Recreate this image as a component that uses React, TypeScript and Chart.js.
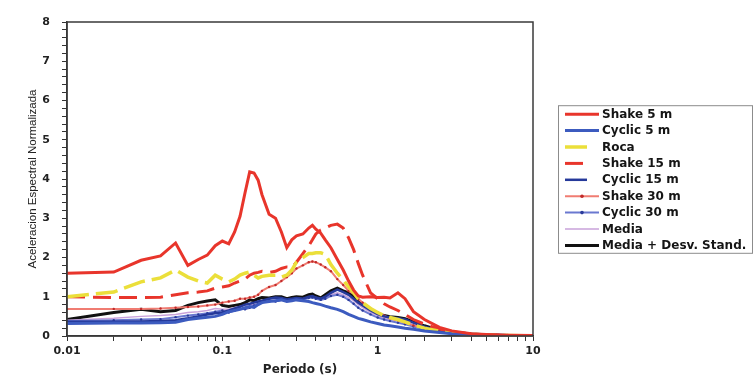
import React, { useEffect, useRef } from 'react';
import { Chart, registerables } from 'chart.js';

Chart.register(...registerables);

// Period axis (s)
const periods = [
  0.01, 0.02, 0.03, 0.04, 0.05, 0.06, 0.07, 0.08, 0.09, 0.1,
  0.11, 0.12, 0.13, 0.14, 0.15, 0.16, 0.17, 0.18, 0.2, 0.22,
  0.24, 0.26, 0.28, 0.3, 0.33, 0.36, 0.38, 0.4, 0.43, 0.46,
  0.5, 0.55, 0.6, 0.65, 0.7, 0.75, 0.8, 0.9, 1.0, 1.1,
  1.2, 1.35, 1.5, 1.7, 2.0, 2.5, 3.0, 4.0, 5.0, 7.0,
  10,
];

const shake5 = [
  1.6, 1.63, 1.93, 2.04, 2.37, 1.8, 1.95, 2.06, 2.3, 2.42,
  2.35, 2.65, 3.05, 3.65, 4.18, 4.15, 3.97, 3.6, 3.1, 3.0,
  2.65, 2.25, 2.45, 2.55, 2.6, 2.75, 2.82, 2.72, 2.62, 2.45,
  2.25, 1.95, 1.68, 1.4, 1.17, 1.02, 0.99, 1.0, 0.98, 0.99,
  0.97, 1.1, 0.95, 0.62, 0.42, 0.22, 0.13, 0.06, 0.04, 0.02,
  0.01,
];

const cyclic5 = [
  0.32, 0.33, 0.33, 0.34, 0.35, 0.42, 0.45, 0.48, 0.5, 0.55,
  0.62, 0.65, 0.68, 0.72, 0.75, 0.73, 0.8, 0.85, 0.88, 0.9,
  0.92, 0.88, 0.9, 0.92, 0.9, 0.88, 0.85, 0.83, 0.8, 0.76,
  0.72, 0.68, 0.62, 0.55, 0.5, 0.45, 0.42, 0.36, 0.32, 0.28,
  0.26, 0.23, 0.2, 0.17, 0.13, 0.09, 0.06, 0.035, 0.02, 0.01,
  0.005,
];

const roca = [
  1.0, 1.12, 1.38, 1.48, 1.68, 1.5, 1.4, 1.35, 1.55, 1.45,
  1.38, 1.45, 1.55, 1.6, 1.63, 1.55, 1.48, 1.52, 1.55, 1.55,
  1.5, 1.55, 1.68, 1.88, 2.0, 2.1, 2.1, 2.12, 2.12, 2.08,
  1.82, 1.6, 1.43, 1.25, 1.1, 0.95, 0.85, 0.7, 0.6, 0.52,
  0.47, 0.42, 0.36, 0.28, 0.2, 0.12, 0.08, 0.04, 0.025, 0.012,
  0.006,
];

const shake15 = [
  1.0, 0.98, 0.98, 0.99, 1.05, 1.1, 1.12, 1.15, 1.22, 1.25,
  1.28, 1.35, 1.4, 1.45, 1.55, 1.6, 1.62, 1.65, 1.62, 1.65,
  1.72, 1.76, 1.75, 1.88, 2.1, 2.3, 2.45, 2.6, 2.7, 2.75,
  2.82, 2.85, 2.75, 2.5, 2.2, 1.85, 1.55, 1.1, 0.95, 0.82,
  0.74, 0.65, 0.55, 0.42, 0.3, 0.18, 0.11, 0.05, 0.03, 0.015,
  0.01,
];

const cyclic15 = [
  0.36, 0.36, 0.37, 0.38, 0.4, 0.45, 0.5, 0.55, 0.58, 0.6,
  0.65, 0.7, 0.75, 0.8, 0.82, 0.85, 0.88, 0.9, 0.95, 0.98,
  0.97, 0.93, 0.95, 0.97, 0.95, 1.0, 1.02, 0.98, 0.95, 1.0,
  1.1, 1.18, 1.12, 1.05, 0.95, 0.85, 0.78, 0.65, 0.56, 0.5,
  0.47, 0.45, 0.42, 0.34, 0.24, 0.13, 0.09, 0.045, 0.028, 0.014,
  0.007,
];

const shake30 = [
  0.69, 0.69, 0.69, 0.7, 0.72, 0.74, 0.75, 0.78, 0.8, 0.85,
  0.88, 0.9, 0.95, 0.95, 0.98, 1.0, 1.05, 1.15, 1.25, 1.3,
  1.4, 1.5, 1.6, 1.72, 1.8, 1.88, 1.9, 1.88, 1.82, 1.75,
  1.65, 1.45, 1.3, 1.15, 1.08, 0.95, 0.85, 0.7, 0.6, 0.52,
  0.45, 0.4, 0.34, 0.27, 0.2, 0.12, 0.08, 0.04, 0.025, 0.012,
  0.006,
];

const cyclic30 = [
  0.38, 0.4, 0.42, 0.43, 0.48, 0.52, 0.55, 0.58, 0.62, 0.65,
  0.6, 0.65, 0.7, 0.68, 0.72, 0.78, 0.82, 0.85, 0.9, 0.88,
  0.92, 0.9, 0.92, 0.95, 0.93, 0.97, 0.98, 0.95, 0.92, 0.95,
  1.02, 1.05, 1.0, 0.92, 0.82, 0.72, 0.65, 0.55, 0.47, 0.42,
  0.38, 0.34, 0.3, 0.24, 0.18, 0.11, 0.07, 0.04, 0.024, 0.012,
  0.006,
];

const media = [
  0.4, 0.45, 0.5, 0.52, 0.55, 0.6, 0.62, 0.65, 0.7, 0.68,
  0.68, 0.72, 0.75, 0.78, 0.8, 0.8, 0.83, 0.86, 0.9, 0.92,
  0.93, 0.92, 0.93, 0.96, 0.95, 0.98, 1.0, 0.98, 0.95, 0.98,
  1.05, 1.1, 1.05, 0.98, 0.9, 0.8, 0.72, 0.6, 0.52, 0.46,
  0.42, 0.39, 0.36, 0.29, 0.21, 0.12, 0.08, 0.04, 0.025, 0.012,
  0.006,
];

const mediaDesv = [
  0.42, 0.6, 0.68, 0.62, 0.65, 0.78, 0.85, 0.89, 0.92, 0.78,
  0.75, 0.78, 0.8, 0.85, 0.92, 0.9, 0.95, 0.98, 0.97, 1.0,
  1.0, 0.95, 0.98, 1.0, 0.99, 1.05, 1.07, 1.02, 0.97, 1.05,
  1.15, 1.22, 1.15, 1.1, 1.0, 0.9, 0.82, 0.68, 0.58, 0.52,
  0.49, 0.47, 0.44, 0.36, 0.26, 0.14, 0.1, 0.05, 0.03, 0.015,
  0.008,
];

const seriesLabels = [
  'Shake 5 m', 'Cyclic 5 m', 'Roca', 'Shake 15 m', 'Cyclic 15 m',
  'Shake 30 m', 'Cyclic 30 m', 'Media', 'Media + Desv. Stand.',
];

const yTickLabels = ['0', '1', '2', '3', '4', '5', '6', '7', '8'];
const xTickLabels = ['0.01', '0.1', '1', '10'];

const toPoints = (vals: number[]) => periods.map((p, i) => ({ x: p, y: vals[i] }));

const frameLegend = {
  id: 'frameLegend',
  afterDraw(chart: any) {
    const { ctx, chartArea } = chart;
    const { left, top, right, bottom } = chartArea;
    ctx.save();
    // plot frame
    ctx.setLineDash([]);
    ctx.strokeStyle = '#3a3a3a';
    ctx.lineWidth = 1.5;
    ctx.strokeRect(left, top, right - left, bottom - top);

    // legend box
    const ds = chart.data.datasets;
    const rowH = 16.4;
    const boxX = right + 25;
    const boxW = 194;
    const boxH = rowH * ds.length;
    const boxY = (top + bottom) / 2 - boxH / 2;
    ctx.lineWidth = 1;
    ctx.strokeStyle = '#8c8c8c';
    ctx.strokeRect(boxX + 0.5, boxY + 0.5, boxW, boxH);
    ctx.font = 'bold 12px "DejaVu Sans"';
    ctx.textBaseline = 'middle';
    ctx.textAlign = 'left';
    ds.forEach((d: any, i: number) => {
      const cy = boxY + 9 + i * rowH;
      const x0 = boxX + 7;
      const dash = d.borderDash || [];
      const len = d.legendLen ? d.legendLen : dash.length ? Math.min(dash[0], 34) : 34;
      ctx.setLineDash([]);
      ctx.strokeStyle = d.borderColor;
      ctx.lineWidth = d.borderWidth;
      ctx.beginPath();
      ctx.moveTo(x0, cy);
      ctx.lineTo(x0 + len, cy);
      ctx.stroke();
      if (d.pointRadius > 0) {
        ctx.fillStyle = d.pointBackgroundColor;
        ctx.beginPath();
        ctx.arc(x0 + 17, cy, 1.8, 0, Math.PI * 2);
        ctx.fill();
      }
      ctx.fillStyle = '#151515';
      ctx.fillText(d.label, boxX + 44, cy + 0.5);
    });
    ctx.restore();
  },
};

export default function App() {
  const ref = useRef<HTMLCanvasElement | null>(null);

  useEffect(() => {
    if (!ref.current) return;
    const base = { pointRadius: 0, tension: 0, fill: false };
    const chart = new Chart(ref.current, {
      type: 'line',
      data: {
        datasets: [
          { ...base, label: seriesLabels[0], data: toPoints(shake5), borderColor: '#e8352b', borderWidth: 3 },
          { ...base, label: seriesLabels[1], data: toPoints(cyclic5), borderColor: '#3c5bbf', borderWidth: 3 },
          { ...base, label: seriesLabels[2], data: toPoints(roca), borderColor: '#ebdf3a', borderWidth: 3.5, borderDash: [22, 7] },
          { ...base, label: seriesLabels[3], data: toPoints(shake15), borderColor: '#e8352b', borderWidth: 3, borderDash: [18, 8] },
          { ...base, label: seriesLabels[4], data: toPoints(cyclic15), borderColor: '#25399a', borderWidth: 2.5, legendLen: 22 },
          { ...base, label: seriesLabels[5], data: toPoints(shake30), borderColor: '#f07c72', borderWidth: 2, pointRadius: 1.2, pointBorderWidth: 0, pointBackgroundColor: '#c02a2a' },
          { ...base, label: seriesLabels[6], data: toPoints(cyclic30), borderColor: '#6a78d0', borderWidth: 2, pointRadius: 1.2, pointBorderWidth: 0, pointBackgroundColor: '#2a3a9a' },
          { ...base, label: seriesLabels[7], data: toPoints(media), borderColor: '#c9a2da', borderWidth: 1.5 },
          { ...base, label: seriesLabels[8], data: toPoints(mediaDesv), borderColor: '#111111', borderWidth: 3 },
        ],
      },
      options: {
        animation: false,
        responsive: false,
        maintainAspectRatio: false,
        layout: { padding: { top: 22, right: 222, left: 0, bottom: 0 } },
        plugins: {
          legend: { display: false },
          tooltip: { enabled: false },
        },
        scales: {
          x: {
            type: 'logarithmic',
            min: 0.01,
            max: 10,
            afterFit: (s: any) => { s.height = 42; },
            grid: { drawOnChartArea: false, drawTicks: true, tickLength: 5, color: '#333', lineWidth: 1 },
            border: { display: true, color: '#333', width: 1.5 },
            ticks: {
              autoSkip: false,
              maxRotation: 0,
              padding: 4,
              color: '#222',
              font: { family: 'DejaVu Sans', weight: 'bold', size: 11 },
              callback: (v: any) => {
                const n = Number(v);
                const l = Math.log10(n);
                if (Math.abs(l - Math.round(l)) < 1e-6) {
                  return xTickLabels[Math.round(l) + 2];
                }
                return '';
              },
            },
            title: {
              display: true,
              text: 'Periodo (s)',
              color: '#222',
              font: { family: 'DejaVu Sans', weight: 'bold', size: 12 },
              padding: { top: 0, bottom: 1 },
            },
          },
          y: {
            type: 'linear',
            min: 0,
            max: 8,
            afterFit: (s: any) => { s.width = 67; },
            grid: { drawOnChartArea: false, drawTicks: true, tickLength: 5, color: '#333', lineWidth: 1 },
            border: { display: true, color: '#333', width: 1.5 },
            ticks: {
              stepSize: 0.2,
              autoSkip: false,
              padding: 12,
              color: '#222',
              font: { family: 'DejaVu Sans', weight: 'bold', size: 11 },
              callback: (v: any) => {
                const n = Number(v);
                if (Math.abs(n - Math.round(n)) < 1e-6) return yTickLabels[Math.round(n)];
                return '';
              },
            },
            title: {
              display: true,
              text: 'Aceleracion Espectral Normalizada',
              color: '#222',
              font: { family: 'Liberation Sans', size: 11.5 },
              padding: { top: 26, bottom: 0 },
            },
          },
        },
      },
      plugins: [frameLegend],
    } as any);
    return () => chart.destroy();
  }, []);

  return (
    <div style={{ position: 'fixed', left: 0, top: 0, width: 755, height: 378, background: '#ffffff' }}>
      <canvas ref={ref} width={755} height={378} style={{ display: 'block', width: 755, height: 378 }} />
    </div>
  );
}
